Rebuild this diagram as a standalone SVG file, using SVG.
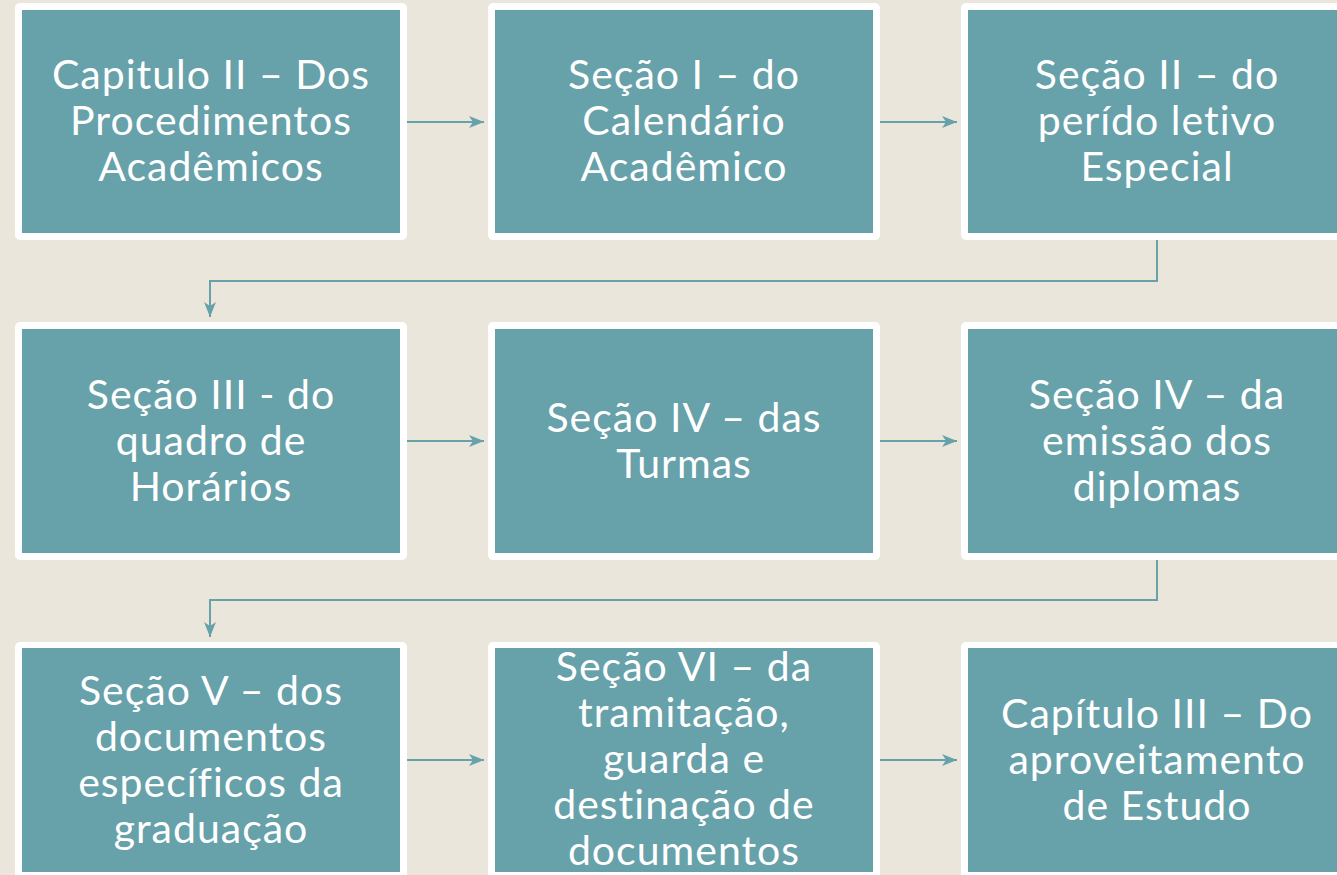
<svg xmlns="http://www.w3.org/2000/svg" width="1337" height="875" viewBox="0 0 1337 875">
<defs>
<style>
.frame{fill:#ffffff}
.box{fill:#67A1AA}
.t{font-family:Lato,"Open Sans","Liberation Sans",sans-serif;font-size:41px;font-weight:400;letter-spacing:1px;fill:#ffffff;text-anchor:middle}
.c{fill:none;stroke:#67A1AA;stroke-width:2}
</style>
<marker id="ah" markerUnits="userSpaceOnUse" markerWidth="18" markerHeight="14" refX="15" refY="6" orient="auto">
<path d="M0,0 L15,6 L0,12 L4,6 Z" fill="#67A1AA"/>
</marker>
</defs>
<rect width="1337" height="875" fill="#EAE6DC"/>
<g id="connectors">
<path class="c" d="M407,122 H484" marker-end="url(#ah)"/>
<path class="c" d="M880,122 H957" marker-end="url(#ah)"/>
<path class="c" d="M1157,240 V281 H210 V317" marker-end="url(#ah)"/>
<path class="c" d="M407,441 H484" marker-end="url(#ah)"/>
<path class="c" d="M880,441 H957" marker-end="url(#ah)"/>
<path class="c" d="M1157,560 V600 H210 V637" marker-end="url(#ah)"/>
<path class="c" d="M407,760 H484" marker-end="url(#ah)"/>
<path class="c" d="M880,760 H957" marker-end="url(#ah)"/>
</g>
<g id="n1">
<rect class="frame" x="15" y="3" width="392" height="237" rx="5"/>
<rect class="box" x="22" y="10" width="378" height="223"/>
<text class="t" x="211"><tspan x="211" y="89">Capitulo II – Dos</tspan><tspan x="211" y="135">Procedimentos</tspan><tspan x="211" y="181">Acadêmicos</tspan></text>
</g>
<g id="n2">
<rect class="frame" x="488" y="3" width="392" height="237" rx="5"/>
<rect class="box" x="495" y="10" width="378" height="223"/>
<text class="t" x="684"><tspan x="684" y="89">Seção I – do</tspan><tspan x="684" y="135">Calendário</tspan><tspan x="684" y="181">Acadêmico</tspan></text>
</g>
<g id="n3">
<rect class="frame" x="961" y="3" width="392" height="237" rx="5"/>
<rect class="box" x="968" y="10" width="378" height="223"/>
<text class="t" x="1157"><tspan x="1157" y="89">Seção II – do</tspan><tspan x="1157" y="135">perído letivo</tspan><tspan x="1157" y="181">Especial</tspan></text>
</g>
<g id="n4">
<rect class="frame" x="15" y="322" width="392" height="238" rx="5"/>
<rect class="box" x="22" y="329" width="378" height="224"/>
<text class="t" x="211"><tspan x="211" y="409">Seção III - do</tspan><tspan x="211" y="455">quadro de</tspan><tspan x="211" y="501">Horários</tspan></text>
</g>
<g id="n5">
<rect class="frame" x="488" y="322" width="392" height="238" rx="5"/>
<rect class="box" x="495" y="329" width="378" height="224"/>
<text class="t" x="684"><tspan x="684" y="432">Seção IV – das</tspan><tspan x="684" y="478">Turmas</tspan></text>
</g>
<g id="n6">
<rect class="frame" x="961" y="322" width="392" height="238" rx="5"/>
<rect class="box" x="968" y="329" width="378" height="224"/>
<text class="t" x="1157"><tspan x="1157" y="409">Seção IV – da</tspan><tspan x="1157" y="455">emissão dos</tspan><tspan x="1157" y="501">diplomas</tspan></text>
</g>
<g id="n7">
<rect class="frame" x="15" y="642" width="392" height="238" rx="5"/>
<rect class="box" x="22" y="648" width="378" height="224"/>
<text class="t" x="211"><tspan x="211" y="705">Seção V – dos</tspan><tspan x="211" y="751">documentos</tspan><tspan x="211" y="797">específicos da</tspan><tspan x="211" y="843">graduação</tspan></text>
</g>
<g id="n8">
<rect class="frame" x="488" y="642" width="392" height="238" rx="5"/>
<rect class="box" x="495" y="648" width="378" height="224"/>
<text class="t" x="684"><tspan x="684" y="681">Seção VI – da</tspan><tspan x="684" y="727">tramitação,</tspan><tspan x="684" y="773">guarda e</tspan><tspan x="684" y="819">destinação de</tspan><tspan x="684" y="865">documentos</tspan></text>
</g>
<g id="n9">
<rect class="frame" x="961" y="642" width="392" height="238" rx="5"/>
<rect class="box" x="968" y="648" width="378" height="224"/>
<text class="t" x="1157"><tspan x="1157" y="728">Capítulo III – Do</tspan><tspan x="1157" y="774">aproveitamento</tspan><tspan x="1157" y="820">de Estudo</tspan></text>
</g>
</svg>
